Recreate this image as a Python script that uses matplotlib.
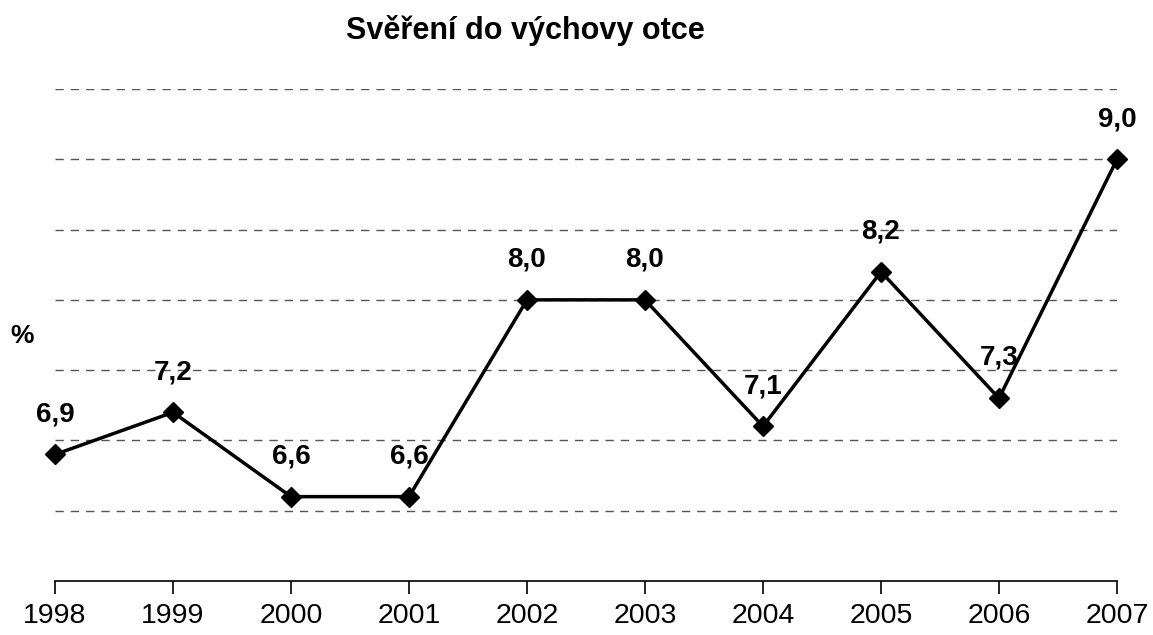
import matplotlib.pyplot as plt

# data
years = [1998, 1999, 2000, 2001, 2002, 2003, 2004, 2005, 2006, 2007]
values = [6.9, 7.2, 6.6, 6.6, 8.0, 8.0, 7.1, 8.2, 7.3, 9.0]
labels = ["6,9", "7,2", "6,6", "6,6", "8,0", "8,0", "7,1", "8,2", "7,3", "9,0"]

plt.rcParams['font.family'] = ['Liberation Sans', 'DejaVu Sans']

fig = plt.figure(figsize=(11.53, 6.35), dpi=100)
ax = fig.add_axes([55 / 1153, 54 / 635, 1062 / 1153, 492 / 635])

ax.plot(years, values, color='black', lw=2.5, marker='D', ms=10,
        mfc='black', mec='black', clip_on=False, zorder=3)

for x, y, t in zip(years, values, labels):
    ax.annotate(t, (x, y), xytext=(0, 29), textcoords='offset points',
                ha='center', va='center', fontsize=20, fontweight='bold')

ax.set_xlim(1998, 2007)
ax.set_ylim(6.0, 9.5)
ax.set_yticks([6.5, 7.0, 7.5, 8.0, 8.5, 9.0, 9.5])
ax.yaxis.grid(True, ls=(0, (6, 5)), color='#555555', lw=1)
ax.tick_params(axis='y', left=False, labelleft=False)
ax.set_xticks(years)
ax.set_xticklabels([str(y) for y in years], fontsize=20.5)
ax.tick_params(axis='x', direction='out', length=9, width=1.2, pad=7)

for s in ['top', 'right', 'left']:
    ax.spines[s].set_visible(False)
ax.spines['bottom'].set_linewidth(1.2)

fig.text(22 / 1153, 1 - 336 / 635, '%', fontsize=19, fontweight='bold',
         ha='center', va='center')
fig.text(525 / 1153, 1 - 30 / 635, 'Svěření do výchovy otce', fontsize=22,
         fontweight='bold', ha='center', va='center')

fig.savefig('out.png', dpi=100)
